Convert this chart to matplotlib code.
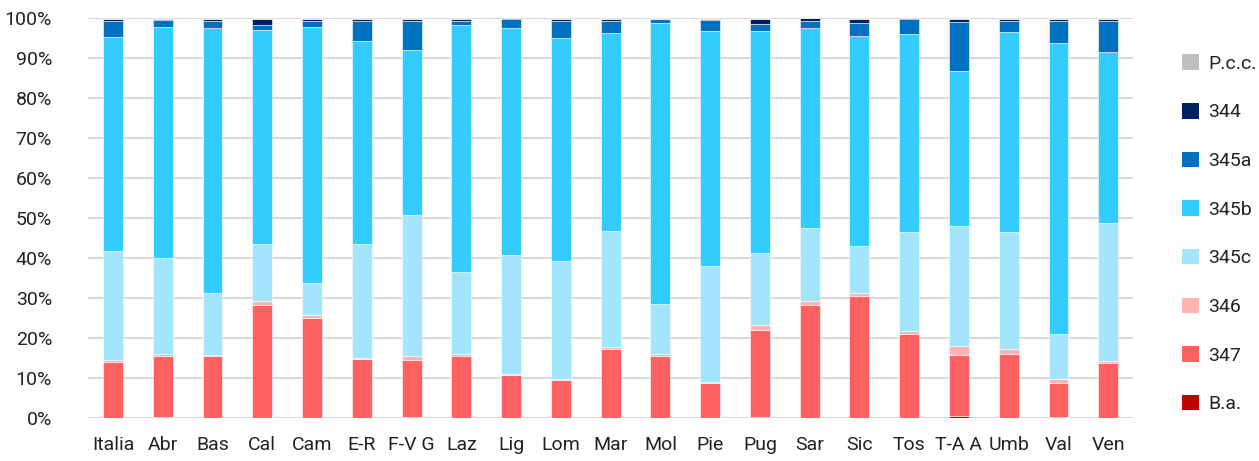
import matplotlib
matplotlib.use("Agg")
import matplotlib.pyplot as plt
from matplotlib.patches import Patch
import numpy as np

matplotlib.rcParams.update({'font.size': 14, 'font.family': 'Roboto'})

# categorie (regioni)
regioni = ["Italia", "Abr", "Bas", "Cal", "Cam", "E-R", "F-V G", "Laz", "Lig", "Lom",
           "Mar", "Mol", "Pie", "Pug", "Sar", "Sic", "Tos", "T-A A", "Umb", "Val", "Ven"]

# quote percentuali per ogni classe (dal basso verso l'alto)
b_a = [0.0, 0.3, 0.0, 0.0, 0.0, 0.0, 0.3, 0.0, 0.0, 0.0, 0.0,
       0.0, 0.0, 0.3, 0.0, 0.0, 0.0, 0.5, 0.0, 0.3, 0.0]
c347 = [14.0, 15.1, 15.4, 28.3, 25.0, 14.7, 14.1, 15.5, 10.75, 9.6, 17.3,
        15.5, 8.75, 21.8, 28.3, 30.4, 20.9, 15.2, 15.9, 8.45, 13.75]
c346 = [0.5, 0.5, 0.4, 1.0, 0.7, 0.3, 1.2, 0.4, 0.35, 0.2, 0.4,
        0.4, 0.35, 1.15, 0.9, 0.95, 0.85, 2.4, 1.3, 0.95, 0.6]
c345c = [27.2, 24.0, 15.4, 14.1, 8.0, 28.5, 35.1, 20.6, 29.6, 29.4, 29.1,
         12.5, 28.8, 17.95, 18.2, 11.75, 24.75, 29.8, 29.3, 11.4, 34.35]
c345b = [53.5, 57.9, 66.2, 53.5, 64.0, 50.7, 41.2, 61.7, 56.7, 55.7, 49.3,
         70.35, 58.8, 55.4, 50.0, 52.4, 49.5, 38.8, 49.9, 72.5, 42.7]
c345a = [4.0, 1.6, 1.8, 1.4, 1.4, 5.1, 7.4, 1.1, 2.3, 4.4, 3.2,
         0.95, 2.8, 1.8, 1.8, 3.2, 3.6, 12.2, 2.9, 5.7, 7.8]
c344 = [0.4, 0.3, 0.6, 1.5, 0.7, 0.4, 0.4, 0.5, 0.2, 0.4, 0.4,
        0.0, 0.3, 1.4, 0.7, 1.1, 0.3, 0.7, 0.4, 0.4, 0.5]
p_cc = [0.4, 0.3, 0.2, 0.2, 0.2, 0.3, 0.3, 0.2, 0.1, 0.3, 0.3,
        0.3, 0.2, 0.2, 0.1, 0.2, 0.1, 0.4, 0.3, 0.3, 0.3]

serie = [("B.a.", b_a, "#C00000"),
         ("347", c347, "#FF6161"),
         ("346", c346, "#FFB3B3"),
         ("345c", c345c, "#A3E5FD"),
         ("345b", c345b, "#33CCFF"),
         ("345a", c345a, "#0070C0"),
         ("344", c344, "#002060"),
         ("P.c.c.", p_cc, "#BFBFBF")]

fig = plt.figure(figsize=(12.59, 4.61), dpi=100)
ax = fig.add_axes([0.070, 0.0933, 0.830, 0.868])

x = np.arange(len(regioni))
base = np.zeros(len(regioni))
for nome, valori, colore in serie:
    valori = np.array(valori)
    ax.bar(x, valori, bottom=base, width=0.4, color=colore,
           edgecolor="white", linewidth=0.4, zorder=3)
    base = base + valori

ax.set_xlim(-0.5, len(regioni) - 0.5)
ax.set_ylim(0, 100)
ax.set_yticks(np.arange(0, 101, 10))
ax.set_yticklabels([f"{v}%" for v in range(0, 101, 10)])
ax.set_xticks(x)
ax.set_xticklabels(regioni)
ax.tick_params(axis="y", length=0, pad=26, labelcolor="#222222")
ax.tick_params(axis="x", length=0, pad=13, labelcolor="#222222")
ax.grid(axis="y", color="#D9D9D9", linewidth=1.5, zorder=0)
for s in ax.spines.values():
    s.set_visible(False)

# legenda a destra, in ordine inverso
handles = [Patch(facecolor=c, edgecolor="none", label=n) for n, v, c in serie[::-1]]
fig.legend(handles=handles, loc="upper left", bbox_to_anchor=(0.925, 0.92),
           frameon=False, handlelength=0.85, handleheight=0.85, handletextpad=0.5,
           labelspacing=1.55, fontsize=14, labelcolor="#222222")

plt.savefig("out.png", dpi=100)
